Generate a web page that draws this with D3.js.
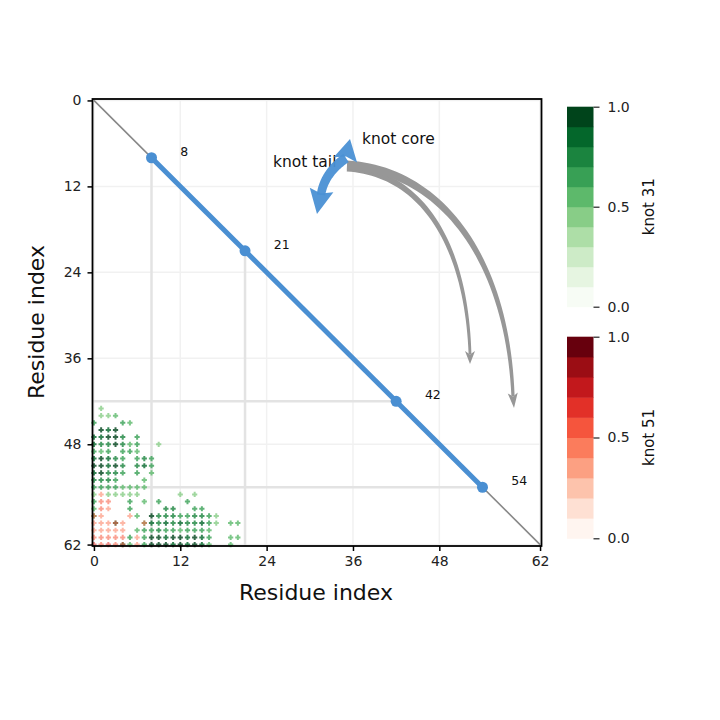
<!DOCTYPE html>
<html>
<head>
<meta charset="utf-8">
<script src="https://cdn.jsdelivr.net/npm/d3@7"></script>
<style>
  html, body { margin: 0; padding: 0; background: #ffffff; }
  svg { display: block; font-family: "DejaVu Sans", sans-serif; }
</style>
</head>
<body>
<svg id="chart" width="720" height="720"></svg>
<script>
// ---------------- data ----------------
const axisTicks = [0, 12, 24, 36, 48, 62];
const colorbarTicks = [0.0, 0.5, 1.0];
const residueCount = 62;
const keyResidues = [8, 21, 42, 54];           // knot tail / core boundaries
const coreStart = 8, coreEnd = 54;
const colorLevels = 10;

// knot 31 probability: [x residue, y residue, probability]
const knot31 = [
  [1,43,0.4],
  [1,44,0.45],[2,44,0.45],[3,44,0.5],
  [0,45,0.6],[4,45,0.6],[5,45,0.55],
  [1,46,0.95],[2,46,0.8],[3,46,0.9],
  [0,47,0.8],[1,47,0.85],[2,47,0.9],[3,47,0.9],[4,47,0.7],[6,47,0.6],
  [0,48,0.8],[1,48,0.75],[2,48,0.7],[3,48,0.9],[4,48,0.75],[5,48,0.55],[6,48,0.6],[9,48,0.45],
  [0,49,0.6],[1,49,0.55],[2,49,0.6],[4,49,0.6],[5,49,0.6],[6,49,0.55],
  [0,50,0.8],[1,50,0.9],[2,50,0.8],[3,50,0.7],[4,50,0.6],[6,50,0.6],[7,50,0.7],[8,50,0.6],
  [0,51,0.9],[1,51,0.9],[2,51,0.8],[3,51,1.0],[4,51,0.7],[6,51,0.75],[7,51,0.8],[8,51,0.65],
  [0,52,0.8],[1,52,0.9],[2,52,0.75],[3,52,0.7],[4,52,0.6],[6,52,0.6],[8,52,0.55],
  [0,53,0.7],[1,53,0.75],[2,53,0.7],[3,53,0.6],[7,53,0.5],
  [0,54,0.6],[1,54,0.6],[2,54,0.6],[3,54,0.6],[4,54,0.55],[5,54,0.5],[6,54,0.55],[7,54,0.5],
  [0,55,0.45],[2,55,0.45],[3,55,0.45],[4,55,0.45],[5,55,0.45],[6,55,0.45],[12,55,0.4],[14,55,0.4],
  [0,56,0.6],[5,56,0.6],[7,56,0.55],[9,56,0.6],[13,56,0.6],
  [0,57,0.5],[5,57,0.6],[10,57,0.7],[11,57,0.7],[14,57,0.65],[15,57,0.65],
  [0,58,0.5],[6,58,0.5],[8,58,0.9],[9,58,0.75],[10,58,0.7],[11,58,0.7],[12,58,0.6],[13,58,0.6],[14,58,0.7],[15,58,0.75],[16,58,0.6],[17,58,0.45],
  [3,59,0.6],[7,59,0.55],[8,59,0.85],[9,59,0.75],[10,59,0.8],[11,59,0.7],[12,59,0.8],[13,59,0.7],[14,59,0.75],[15,59,0.8],[16,59,0.6],[17,59,0.45],[19,59,0.55],[20,59,0.5],
  [6,60,0.55],[7,60,0.6],[8,60,0.65],[9,60,0.7],[10,60,0.6],[11,60,0.6],[12,60,0.55],[13,60,0.6],[14,60,0.65],[15,60,0.6],[16,60,0.5],
  [5,61,0.6],[7,61,0.6],[8,61,0.9],[9,61,0.9],[10,61,0.85],[11,61,0.9],[12,61,0.95],[13,61,0.85],[14,61,0.9],[15,61,0.85],[16,61,0.6],[19,61,0.55],[20,61,0.5],
  [4,62,0.6],[5,62,0.5],[7,62,0.6],[8,62,0.9],[9,62,0.95],[10,62,0.9],[11,62,0.85],[12,62,0.95],[13,62,0.85],[14,62,0.9],[15,62,0.85],[16,62,0.55],[19,62,0.55]
];

// knot 51 probability: [x residue, y residue, probability]
const knot51 = [
  [1,55,0.45],
  [1,56,0.55],[2,56,0.5],
  [1,57,0.55],[2,57,0.45],
  [0,58,0.5],[1,58,0.45],[5,58,0.45],
  [0,59,0.45],[1,59,0.45],[2,59,0.4],[3,59,0.6],[4,59,0.45],[7,59,0.55],
  [0,60,0.45],[1,60,0.45],[2,60,0.45],[3,60,0.4],[4,60,0.45],
  [0,61,0.55],[1,61,0.55],[2,61,0.55],[3,61,0.5],[4,61,0.5],[6,61,0.45],
  [0,62,0.6],[1,62,0.55],[2,62,0.6],[3,62,0.55],[4,62,0.6],[6,62,0.45]
];

// ---------------- drawing ----------------
const svg = d3.select("#chart");
const x = d3.scaleLinear().domain([-0.2, 62.2]).range([92.5, 541.5]);
const y = d3.scaleLinear().domain([-0.2, 62.2]).range([99, 546]);
const blue = "#4a8fd2";

// grid
const grid = svg.append("g");
axisTicks.forEach(t => {
  grid.append("line").attr("x1", x(t)).attr("x2", x(t)).attr("y1", y.range()[0]).attr("y2", y.range()[1])
    .attr("stroke", "#f1f1f1").attr("stroke-width", 1.5);
  grid.append("line").attr("y1", y(t)).attr("y2", y(t)).attr("x1", x.range()[0]).attr("x2", x.range()[1])
    .attr("stroke", "#f1f1f1").attr("stroke-width", 1.5);
});

// helper lines from the key residues
const guides = svg.append("g").attr("stroke", "#e3e3e3").attr("stroke-width", 2.5);
[keyResidues[0], keyResidues[1]].forEach(k => {
  guides.append("line").attr("x1", x(k)).attr("x2", x(k)).attr("y1", y(k)).attr("y2", y.range()[1]);
});
[keyResidues[2], keyResidues[3]].forEach(k => {
  guides.append("line").attr("y1", y(k)).attr("y2", y(k)).attr("x1", x.range()[0]).attr("x2", x(k));
});

// scatter markers
const quant = (p) => Math.min(colorLevels - 1, Math.floor(p * colorLevels)) / (colorLevels - 1);
const plus = "M-2.6,0H2.6M0,-2.6V2.6";
function drawPoints(data, interp, op) {
  svg.append("g").selectAll("path").data(data).join("path")
    .attr("d", plus)
    .attr("transform", d => `translate(${x(d[0])},${y(d[1])})`)
    .attr("stroke", d => interp(quant(d[2])))
    .attr("stroke-width", 2)
    .attr("fill", "none")
    .attr("opacity", op);
}
drawPoints(knot31, d3.interpolateGreens, 0.8);
drawPoints(knot51, d3.interpolateReds, 0.55);

// diagonal
svg.append("line").attr("x1", x(0)).attr("y1", y(0)).attr("x2", x(residueCount)).attr("y2", y(residueCount))
  .attr("stroke", "#888888").attr("stroke-width", 1.6);
svg.append("line").attr("x1", x(coreStart)).attr("y1", y(coreStart)).attr("x2", x(coreEnd)).attr("y2", y(coreEnd))
  .attr("stroke", blue).attr("stroke-width", 5);
svg.append("g").selectAll("circle").data(keyResidues).join("circle")
  .attr("cx", d => x(d)).attr("cy", d => y(d)).attr("r", 5.5).attr("fill", blue);
svg.append("g").selectAll("text").data(keyResidues).join("text")
  .attr("x", d => x(d + 4)).attr("y", d => y(d - 0.75))
  .attr("dominant-baseline", "middle")
  .attr("font-size", 12.5).attr("fill", "#111")
  .text(d => d);

// frame
svg.append("rect").attr("x", x.range()[0]).attr("y", y.range()[0])
  .attr("width", x.range()[1] - x.range()[0]).attr("height", y.range()[1] - y.range()[0])
  .attr("fill", "none").attr("stroke", "#000").attr("stroke-width", 1.8);

// axes
const xAxis = svg.append("g").attr("transform", `translate(0,${y.range()[1]})`)
  .call(d3.axisBottom(x).tickValues(axisTicks).tickSize(5).tickPadding(5));
const yAxis = svg.append("g").attr("transform", `translate(${x.range()[0]},0)`)
  .call(d3.axisLeft(y).tickValues(axisTicks).tickSize(5).tickPadding(6));
[xAxis, yAxis].forEach(a => {
  a.select(".domain").remove();
  a.selectAll(".tick line").attr("stroke", "#000").attr("stroke-width", 1.5);
  a.selectAll(".tick text").attr("font-size", 14).attr("fill", "#222").attr("font-family", "DejaVu Sans, sans-serif");
});

svg.append("text").attr("x", 316).attr("y", 600).attr("text-anchor", "middle")
  .attr("font-size", 22).attr("fill", "#111").text("Residue index");
svg.append("text").attr("transform", "translate(44,322) rotate(-90)").attr("text-anchor", "middle")
  .attr("font-size", 22).attr("fill", "#111").text("Residue index");

// colorbars
function colorbar(top, bottom, interp, label) {
  const cs = d3.scaleLinear().domain([0, 1]).range([bottom, top]);
  const g = svg.append("g");
  const levels = d3.range(colorLevels);
  g.selectAll("rect").data(levels).join("rect")
    .attr("x", 567).attr("width", 26.5)
    .attr("y", i => cs((i + 1) / colorLevels))
    .attr("height", i => cs(i / colorLevels) - cs((i + 1) / colorLevels) + 0.5)
    .attr("fill", i => interp(i / (colorLevels - 1)));
  const ax = svg.append("g").attr("transform", "translate(593.5,0)")
    .call(d3.axisRight(cs).tickValues(colorbarTicks).tickFormat(d3.format(".1f")).tickSize(6).tickPadding(8));
  ax.select(".domain").remove();
  ax.selectAll(".tick line").attr("stroke", "#222").attr("stroke-width", 1.2);
  ax.selectAll(".tick text").attr("font-size", 14).attr("fill", "#222").attr("font-family", "DejaVu Sans, sans-serif");
  svg.append("text").attr("transform", `translate(654,${(top + bottom) / 2}) rotate(-90)`)
    .attr("text-anchor", "middle").attr("font-size", 15).attr("fill", "#111").text(label);
}
colorbar(106.7, 306.7, d3.interpolateGreens, "knot 31");
colorbar(336.7, 538.3, d3.interpolateReds, "knot 51");

// annotations
svg.append("text").attr("x", 362).attr("y", 143.5).attr("font-size", 15.5).attr("fill", "#111").text("knot core");
svg.append("text").attr("x", 273).attr("y", 166.5).attr("font-size", 15.5).attr("fill", "#111").text("knot tail");

function cubicPt(P, t) {
  const m = 1 - t;
  return [0, 1].map(k => m*m*m*P[0][k] + 3*m*m*t*P[1][k] + 3*m*t*t*P[2][k] + t*t*t*P[3][k]);
}
function cubicD(P, t) {
  const m = 1 - t;
  return [0, 1].map(k => 3*m*m*(P[1][k]-P[0][k]) + 6*m*t*(P[2][k]-P[1][k]) + 3*t*t*(P[3][k]-P[2][k]));
}
function taperBody(P, w0, w1) {
  const L = [], R = [];
  for (let i = 0; i <= 48; i++) {
    const t = i / 48, p = cubicPt(P, t), d = cubicD(P, t);
    const len = Math.hypot(d[0], d[1]);
    const n = [-d[1] / len, d[0] / len];
    const w = (w0 + (w1 - w0) * t) / 2;
    L.push([p[0] + n[0] * w, p[1] + n[1] * w]);
    R.push([p[0] - n[0] * w, p[1] - n[1] * w]);
  }
  const pts = L.concat(R.reverse());
  return "M" + pts.map(p => p[0].toFixed(2) + "," + p[1].toFixed(2)).join("L") + "Z";
}
function headPath(base, tip, hw, notch) {
  const dx = tip[0] - base[0], dy = tip[1] - base[1], len = Math.hypot(dx, dy);
  const u = [dx / len, dy / len], n = [-u[1], u[0]];
  const a = [base[0] + n[0] * hw - u[0] * notch, base[1] + n[1] * hw - u[1] * notch];
  const b = [base[0] - n[0] * hw - u[0] * notch, base[1] - n[1] * hw - u[1] * notch];
  const c = [base[0] + u[0] * notch * 0.2, base[1] + u[1] * notch * 0.2];
  return `M${tip[0]},${tip[1]}L${a[0]},${a[1]}L${c[0]},${c[1]}L${b[0]},${b[1]}Z`;
}

// gray arrows (knot core -> ends)
const grayCol = "#979797";
const grayA = [[347,168],[418,173],[466,238],[470,354]];
const grayB = [[347,165],[436,169],[507,252],[513,396]];
svg.append("path").attr("d", taperBody(grayA, 7, 2.8)).attr("fill", grayCol);
svg.append("path").attr("d", headPath([470,354],[470,364],5,3)).attr("fill", grayCol);
svg.append("path").attr("d", taperBody(grayB, 9, 3.2)).attr("fill", grayCol);
svg.append("path").attr("d", headPath([513,396],[514,408],5,3)).attr("fill", grayCol);

// blue double arrow (knot tail)
const blueArrow = [[346,158],[334,166],[323,179],[321,195]];
const blueCol = "#4a90d4";
svg.append("path").attr("d", taperBody(blueArrow, 10, 8.5)).attr("fill", blueCol).attr("opacity", 0.95);
svg.append("path").attr("d", headPath([346,157],[350,139],12,3)).attr("fill", blueCol).attr("opacity", 0.95);
svg.append("path").attr("d", headPath([321,193],[317,214],12,3)).attr("fill", blueCol).attr("opacity", 0.95);
</script>
</body>
</html>
